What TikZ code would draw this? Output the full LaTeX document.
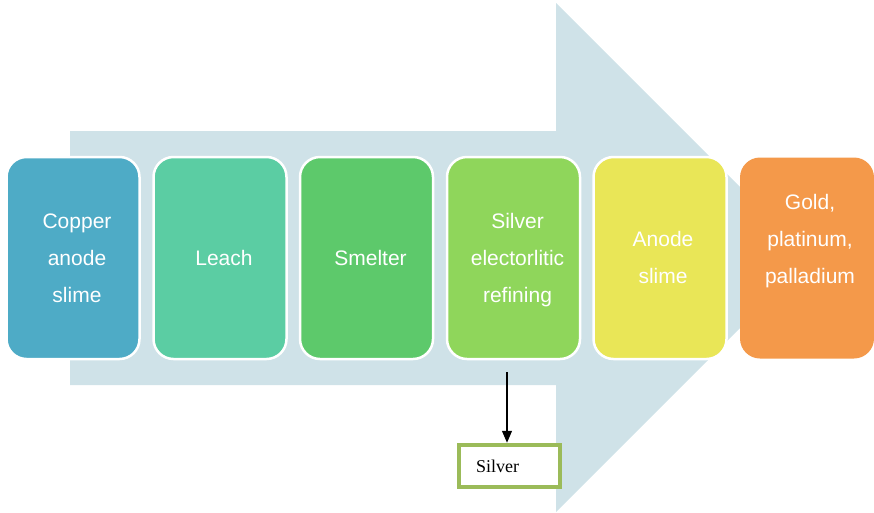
\documentclass[tikz,border=0pt]{standalone}
\usepackage{fontspec}
\setmainfont{Liberation Serif}
\newfontfamily\arialf{Liberation Sans}
\usetikzlibrary{arrows.meta}
\definecolor{bgarrow}{HTML}{CFE2E8}
\definecolor{cA}{HTML}{4EABC6}
\definecolor{cB}{HTML}{5BCDA3}
\definecolor{cC}{HTML}{5DC96B}
\definecolor{cD}{HTML}{8FD65B}
\definecolor{cE}{HTML}{E9E657}
\definecolor{cF}{HTML}{F4994A}
\definecolor{silverbd}{HTML}{9BBB59}
\newcommand\Ln[1]{\strut#1}
\tikzset{
  stagebox/.style={draw=white, line width=2.5pt, rounded corners=20pt,
    minimum width=133pt, minimum height=202pt, inner sep=0pt},
  stagetext/.style={inner sep=0pt, align=center, text=white,
    font=\arialf\fontsize{21}{37}\selectfont},
  outbox/.style={draw=silverbd, line width=4.5pt, fill=white,
    minimum width=101pt, minimum height=42pt, inner sep=0pt,
    font=\fontsize{18}{21}\selectfont, text=black},
  flowarrow/.style={draw=black, line width=1.2pt, -{Triangle[length=12pt,width=10pt]}}
}
\begin{document}
\begin{tikzpicture}[x=1pt,y=-1pt]
\useasboundingbox (0,0) rectangle (874,512);
\fill[bgarrow] (70,131) -- (556,131) -- (556,3) -- (810.5,257.5) -- (556,512) -- (556,385) -- (70,385) -- cycle;
\node[stagebox, fill=cA] (copper) at (73,258) {};
\node[stagebox, fill=cB] (leach) at (220,258) {};
\node[stagebox, fill=cC] (smelter) at (366.5,258) {};
\node[stagebox, fill=cD] (refining) at (513.5,258) {};
\node[stagebox, fill=cE] (slime) at (660,258) {};
\node[stagebox, fill=cF, draw=none, minimum width=134pt, minimum height=201pt] (gold) at (807,258) {};
\node[stagetext] (copperT) at ([xshift=4pt]copper.center) {\Ln{Copper}\\\Ln{anode}\\\Ln{slime}};
\node[stagetext] (leachT) at ([xshift=4pt]leach.center) {\Ln{Leach}};
\node[stagetext] (smelterT) at ([xshift=4pt]smelter.center) {\Ln{Smelter}};
\node[stagetext] (refiningT) at ([xshift=4pt]refining.center) {\Ln{Silver}\\\Ln{electorlitic}\\\Ln{refining}};
\node[stagetext] (slimeT) at ([xshift=3pt]slime.center) {\Ln{Anode}\\\Ln{slime}};
\node[stagetext] (goldT) at ([xshift=3pt,yshift=18.5pt]gold.center) {\Ln{Gold,}\\\Ln{platinum,}\\\Ln{palladium}};
\node[outbox, text width=67pt, align=left] (silver) at (509.5,466) {Silver};
\coordinate (src) at (507,372);
\draw[flowarrow] (src) -- (silver.north -| src);
\end{tikzpicture}
\end{document}
